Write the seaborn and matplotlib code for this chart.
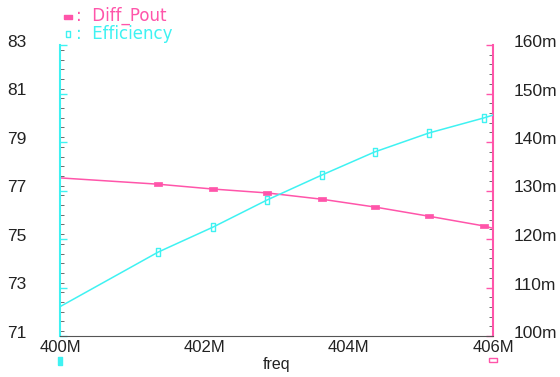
import matplotlib
matplotlib.use("Agg")
import matplotlib.pyplot as plt
from matplotlib.ticker import MultipleLocator
from matplotlib.transforms import ScaledTranslation
import seaborn as sns
import pandas as pd

# ---- data ----
freq = [400.0, 401.36, 402.12, 402.87, 403.63, 404.36, 405.11, 405.87, 406.0]   # MHz
efficiency = [72.21, 74.46, 75.49, 76.61, 77.64, 78.59, 79.37, 79.99, 80.11]
diff_pout = [132.6, 131.3, 130.3, 129.5, 128.2, 126.6, 124.7, 122.7, 122.2]      # milli-units
x_ticks = [400, 402, 404, 406]
x_labels = ["400M", "402M", "404M", "406M"]
left_ticks = [71, 73, 75, 77, 79, 81, 83]
right_ticks = [100, 110, 120, 130, 140, 150, 160]
right_labels = ["100m", "110m", "120m", "130m", "140m", "150m", "160m"]

PINK = "#ff55aa"
CYAN = "#3ff2f2"
TXT = "#222222"

sns.set_style("white")
plt.rcParams["font.family"] = ["Liberation Sans", "DejaVu Sans"]

df = pd.DataFrame({"freq": freq, "Efficiency": efficiency, "Diff_Pout": diff_pout})

fig = plt.figure(figsize=(5.6, 3.77), dpi=100)
ax = fig.add_axes([60 / 560, 1 - 336 / 377, 433 / 560, 291 / 377])
ax2 = ax.twinx()
ax.set_zorder(ax2.get_zorder() + 1)
ax.patch.set_visible(False)

rect_v = [(-1, -2), (1, -2), (1, 2), (-1, 2), (-1, -2)]
rect_h = [(-2, -1), (2, -1), (2, 1), (-2, 1), (-2, -1)]

sns.lineplot(data=df, x="freq", y="Efficiency", ax=ax, color=CYAN, lw=1.1,
             marker=rect_v, markersize=6, markevery=list(range(1, 8)),
             markerfacecolor="none", markeredgecolor=CYAN, markeredgewidth=1.0)
sns.lineplot(data=df, x="freq", y="Diff_Pout", ax=ax2, color=PINK, lw=1.1,
             marker=rect_h, markersize=6, markevery=list(range(1, 8)),
             markerfacecolor=PINK, markeredgecolor=PINK, markeredgewidth=0.5)

ax.set_xlim(400, 406)
ax.set_ylim(71, 83)
ax2.set_ylim(100, 160)

ax.set_xticks(x_ticks)
ax.set_xticklabels(x_labels)
ax.xaxis.set_minor_locator(MultipleLocator(0.2))
ax.set_yticks(left_ticks)
ax.set_yticklabels([str(v) for v in left_ticks])
ax.yaxis.set_minor_locator(MultipleLocator(0.4))
ax2.set_yticks(right_ticks)
ax2.set_yticklabels(right_labels)
ax2.yaxis.set_minor_locator(MultipleLocator(2))

ax.set_xlabel("freq", fontsize=11.5, color=TXT, labelpad=1)
ax.set_ylabel("")
ax2.set_ylabel("")

for a in (ax, ax2):
    for s in a.spines.values():
        s.set_visible(False)

ax.spines["left"].set_visible(True)
ax.spines["left"].set_color(CYAN)
ax.spines["left"].set_linewidth(1.5)
ax.spines["bottom"].set_visible(True)
ax.spines["bottom"].set_color("#555555")
ax.spines["bottom"].set_linewidth(0.8)
ax2.spines["right"].set_visible(True)
ax2.spines["right"].set_color(PINK)
ax2.spines["right"].set_linewidth(1.5)

ax.tick_params(axis="x", which="major", direction="in", length=7, width=0.8,
               color="#222222", labelsize=12, labelcolor=TXT, pad=3)
ax.tick_params(axis="x", which="minor", direction="in", length=3, width=0.6, color="#555555")
ax.tick_params(axis="y", which="major", direction="in", length=5, width=1.0,
               color=CYAN, labelsize=12.5, labelcolor=TXT, pad=24)
ax.tick_params(axis="y", which="minor", direction="in", length=3, width=0.6, color="#555555")
ax2.tick_params(axis="y", which="major", direction="in", length=5, width=1.0,
                color=PINK, labelsize=12.5, labelcolor=TXT, pad=15)
ax2.tick_params(axis="y", which="minor", direction="in", length=3, width=0.6, color="#555555")

# tick labels sit a few pixels above their ticks in the reference
up = ScaledTranslation(0, 4 / 100, fig.dpi_scale_trans)
for lab in ax.get_yticklabels() + ax2.get_yticklabels():
    lab.set_transform(lab.get_transform() + up)

# axis identifier markers below the x axis
ax.plot([0], [-0.086], transform=ax.transAxes, marker=rect_v, markersize=6,
        markerfacecolor=CYAN, markeredgecolor=CYAN, clip_on=False, ls="none")
ax.plot([1], [-0.083], transform=ax.transAxes, marker=rect_h, markersize=6,
        markerfacecolor="none", markeredgecolor=PINK, clip_on=False, ls="none")

# legend (top-left)
fig.text(76 / 560, 1 - 16 / 377, ":  Diff_Pout", color=PINK, fontsize=12, va="center",
         ha="left", family="DejaVu Sans")
fig.text(76 / 560, 1 - 34 / 377, ":  Efficiency", color=CYAN, fontsize=12, va="center",
         ha="left", family="DejaVu Sans")
lm = fig.add_axes([0, 0, 1, 1], facecolor="none")
lm.set_axis_off()
lm.set_xlim(0, 560)
lm.set_ylim(377, 0)
lm.plot([67.5], [17], marker=rect_h, markersize=6, markerfacecolor=PINK,
        markeredgecolor=PINK, ls="none")
lm.plot([67.5], [34], marker=rect_v, markersize=5, markerfacecolor="none",
        markeredgecolor=CYAN, ls="none")

fig.savefig("out.png", dpi=100)
